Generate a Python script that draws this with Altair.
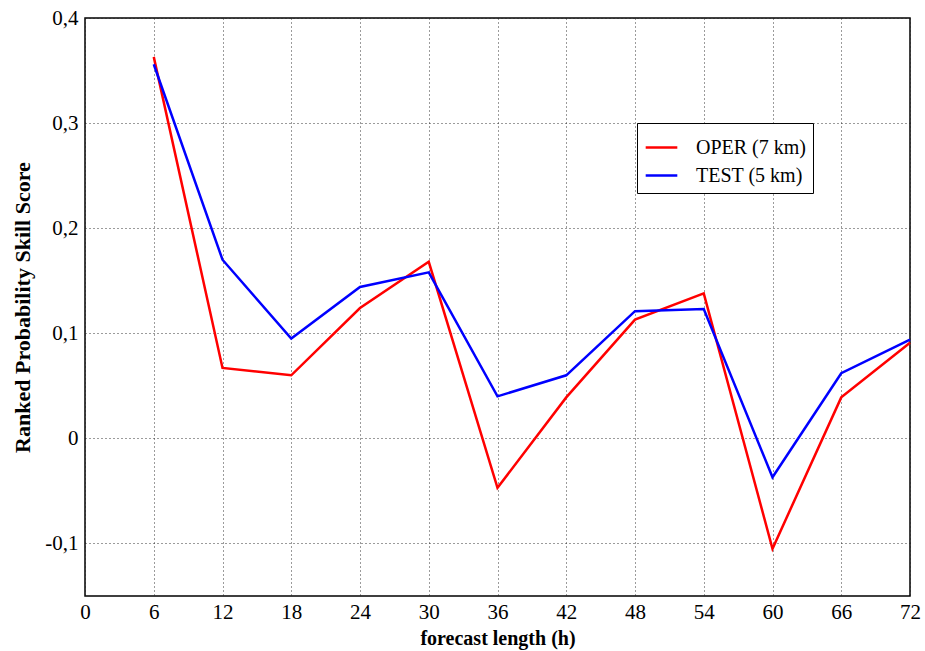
import altair as alt
import pandas as pd

hours = [6, 12, 18, 24, 30, 36, 42, 48, 54, 60, 66, 72]
oper = [0.363, 0.067, 0.060, 0.124, 0.168, -0.047, 0.039, 0.113, 0.138, -0.105, 0.039, 0.091]
test = [0.356, 0.170, 0.095, 0.144, 0.158, 0.040, 0.060, 0.121, 0.123, -0.037, 0.062, 0.094]
series = ["OPER (7 km)", "TEST (5 km)"]
colors = ["#ff0000", "#0000ff"]
x_ticks = list(range(0, 73, 6))
y_ticks = [-0.1, 0, 0.1, 0.2, 0.3, 0.4]

rows = []
for h, v in zip(hours, oper):
    rows.append({"h": h, "v": v, "s": series[0]})
for h, v in zip(hours, test):
    rows.append({"h": h, "v": v, "s": series[1]})
df = pd.DataFrame(rows)

font = "Liberation Serif"
common = dict(grid=True, ticks=False, domain=False,
              labelFont=font, titleFont=font, labelColor="black", titleColor="black",
              titleFontWeight="bold", gridColor="#222", gridDash=[1, 3], gridWidth=1,
              gridOpacity=0.9, labelFontSize=21)

chart = alt.Chart(df).mark_line(strokeWidth=2.5).encode(
    x=alt.X("h:Q", scale=alt.Scale(domain=[0, 72], nice=False),
            axis=alt.Axis(values=x_ticks, title="forecast length (h)", labelPadding=5,
                          titleFontSize=20, titlePadding=6, labelFlush=False, **common)),
    y=alt.Y("v:Q", scale=alt.Scale(domain=[-0.15, 0.4], nice=False, zero=False),
            axis=alt.Axis(values=y_ticks, title="Ranked Probability Skill Score",
                          labelPadding=7,
                          labelExpr="replace(replace(format(datum.value, '.1~f'), /[.]/, ','), /\u2212/, '-')",
                          titleFontSize=22, titlePadding=10, **common)),
    color=alt.Color("s:N", scale=alt.Scale(domain=series, range=colors),
                    legend=alt.Legend(title=None, orient="none", legendX=552, legendY=105,
                                      symbolType="stroke", symbolStrokeWidth=2.5,
                                      symbolSize=1000, labelFontSize=20, labelFont=font,
                                      labelColor="black",
                                      strokeColor="black", fillColor="white",
                                      padding=7, rowPadding=0, labelOffset=17,
                                      labelLimit=300)),
    order="h:Q",
).properties(
    width=825, height=578,
    autosize=alt.AutoSizeParams(type="none"),
    padding={"left": 85, "top": 18, "right": 15, "bottom": 55},
    background="white",
).configure_view(
    stroke="black", strokeWidth=1.5,
)

chart.save("out.html", embed_options={"renderer": "svg", "actions": False})
